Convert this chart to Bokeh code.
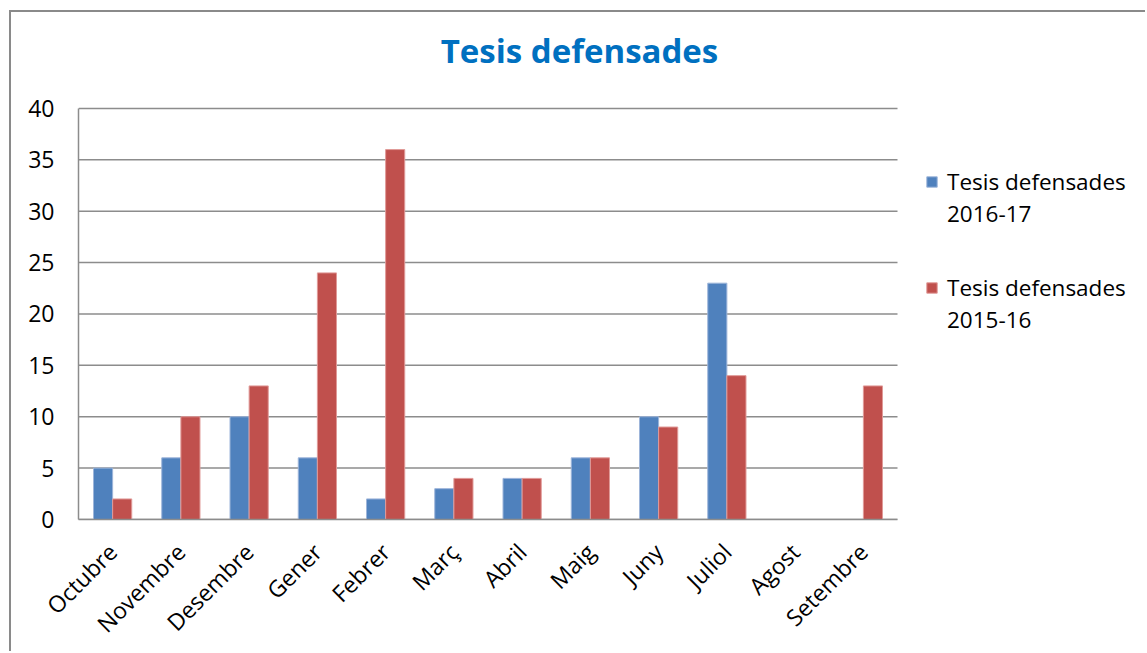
import math
import numpy as np
from bokeh.plotting import figure
from bokeh.models import Legend, LegendItem, Label, ColumnDataSource, FixedTicker
from bokeh.embed import file_html
from bokeh.resources import INLINE

months = ["Octubre", "Novembre", "Desembre", "Gener", "Febrer", "Març",
          "Abril", "Maig", "Juny", "Juliol", "Agost", "Setembre"]
tesis_2016_17 = [5, 6, 10, 6, 2, 3, 4, 6, 10, 23, 0, 0]
tesis_2015_16 = [2, 10, 13, 24, 36, 4, 4, 6, 9, 14, 0, 13]
y_ticks = [0, 5, 10, 15, 20, 25, 30, 35, 40]

FONT = "Open Sans"
BLUE = "#4F81BD"
RED = "#C0504D"
GRID = "#8c8c8c"

n = len(months)
centers = np.arange(n) + 0.5
BAR_W = 0.28

source = ColumnDataSource(dict(xa=centers - BAR_W / 2, xb=centers + BAR_W / 2,
                               a=tesis_2016_17, b=tesis_2015_16))

# frame covers the whole chart area (title + legend live inside it);
# axes are bounded to the data area
p = figure(x_range=(0, 15.663), y_range=(0, 49.34),
           width=1136, height=641, output_backend="svg", toolbar_location=None,
           min_border_left=67, min_border_right=0, min_border_top=0,
           min_border_bottom=134)
p.styles = {"margin-left": "9px", "margin-top": "10px",
            "border-left": "2px solid #8a8a8a", "border-top": "2px solid #8a8a8a"}

# horizontal grid lines limited to the category area
p.segment(x0=0, x1=n, y0=y_ticks, y1=y_ticks, line_color=GRID, line_width=1.5)

r1 = p.vbar(x="xa", top="a", width=BAR_W, source=source,
            fill_color=BLUE, line_color="#9db5da", line_width=1)
r2 = p.vbar(x="xb", top="b", width=BAR_W, source=source,
            fill_color=RED, line_color="#e09a98", line_width=1)

blank = p.scatter(x=[], y=[], fill_alpha=0, line_alpha=0)

title = Label(x=501, y=469, x_units="screen", y_units="screen",
              text="Tesis defensades", text_align="center", text_baseline="middle",
              text_font=FONT, text_font_size="33px", text_font_style="bold",
              text_color="#0070C0")
p.add_layout(title)

p.outline_line_color = None
p.grid.grid_line_color = None

p.yaxis.bounds = (0, 40)
p.yaxis.ticker = FixedTicker(ticks=y_ticks)
p.yaxis.axis_line_color = GRID
p.yaxis.axis_line_width = 1.5
p.yaxis.major_tick_line_color = None
p.yaxis.minor_tick_line_color = None
p.yaxis.major_label_standoff = 18
p.yaxis.major_label_text_font = FONT
p.yaxis.major_label_text_font_size = "23px"
p.yaxis.major_label_text_color = "#000000"

p.xaxis.bounds = (0, n)
p.xaxis.ticker = FixedTicker(ticks=list(centers))
p.xaxis.major_label_overrides = {float(c): m for c, m in zip(centers, months)}
p.xaxis.axis_line_color = GRID
p.xaxis.axis_line_width = 1.5
p.xaxis.major_tick_line_color = None
p.xaxis.minor_tick_line_color = None
p.xaxis.major_label_orientation = math.pi / 4
p.xaxis.major_label_standoff = 22
p.xaxis.major_label_text_font = FONT
p.xaxis.major_label_text_font_size = "23px"
p.xaxis.major_label_text_color = "#000000"

common = dict(border_line_color=None, background_fill_alpha=0,
              label_text_font=FONT, label_text_font_size="22.5px",
              label_text_color="#000000", label_height=32, glyph_width=13,
              glyph_height=13, spacing=0, label_standoff=9, padding=0, margin=0)

legend_a = Legend(items=[LegendItem(label="Tesis defensades", renderers=[r1]),
                         LegendItem(label="2016-17", renderers=[blank])],
                  location=(847, 290), **common)
legend_b = Legend(items=[LegendItem(label="Tesis defensades", renderers=[r2]),
                         LegendItem(label="2015-16", renderers=[blank])],
                  location=(847, 184), **common)
p.add_layout(legend_a, "center")
p.add_layout(legend_b, "center")

open("out.html", "w").write(file_html(p, INLINE))
